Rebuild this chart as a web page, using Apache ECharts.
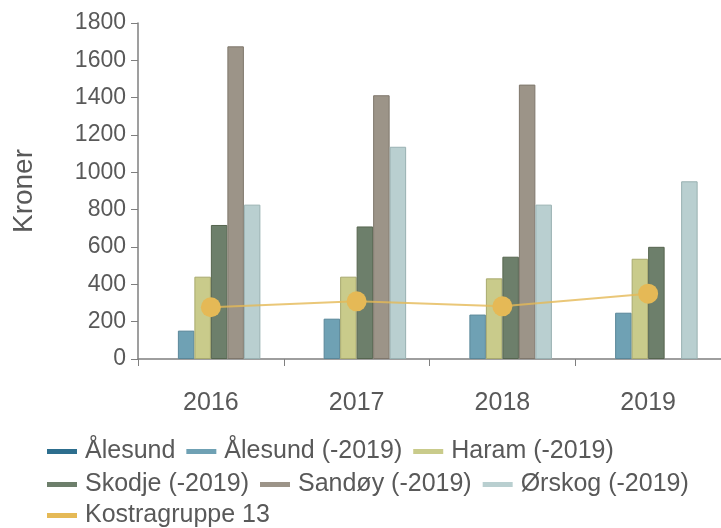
<!DOCTYPE html>
<html><head><meta charset="utf-8">
<script src="https://cdn.jsdelivr.net/npm/echarts@6/dist/echarts.min.js"></script>
<style>html,body{margin:0;padding:0;background:#fff}#c{width:721px;height:528px}</style>
</head><body><div id="c"></div>
<script>
const categories = ['2016', '2017', '2018', '2019'];
const seriesNames = ['Ålesund', 'Ålesund (-2019)', 'Haram (-2019)', 'Skodje (-2019)', 'Sandøy (-2019)', 'Ørskog (-2019)', 'Kostragruppe 13'];
const alesund = [null, null, null, null];
const alesund2019 = [152, 216, 238, 248];
const haram = [441, 441, 432, 537];
const skodje = [718, 710, 548, 601];
const sandoy = [1675, 1413, 1470, null];
const orskog = [827, 1137, 827, 952];
const kostra = [277, 309, 282, 350];
const yTicks = { min: 0, max: 1800, interval: 200 };

const fills = ['#2d6e8e', '#6fa1b4', '#c9cb8b', '#6d7f6b', '#9c9488', '#b9cfd0'];
const borders = ['#245a74', '#5a8799', '#a8aa6e', '#56654f', '#7f776c', '#99b1b2'];
const lineColor = '#e5b956';
const txt = '#595959';
const FONT = '"Liberation Sans", Arial, sans-serif';

const barData = [alesund, alesund2019, haram, skodje, sandoy, orskog];
const series = barData.map((d, i) => ({
  name: seriesNames[i], type: 'bar', data: d, barWidth: 16.5, barGap: '0%',
  itemStyle: { color: fills[i], borderColor: borders[i], borderWidth: 1 }
}));
series.push({
  name: seriesNames[6], type: 'line', data: kostra, symbol: 'circle', symbolSize: 20,
  itemStyle: { color: lineColor }, lineStyle: { color: lineColor, width: 2, opacity: 0.8 }, z: 5
});

const legendBase = {
  orient: 'horizontal', left: 42, itemWidth: 30, itemHeight: 5, itemGap: 11,
  icon: 'rect', itemStyle: { borderWidth: 0 },
  textStyle: { color: txt, fontSize: 25, fontFamily: FONT, padding: [0, 0, 0, 3] }
};
const chart = echarts.init(document.getElementById('c'));
chart.setOption({
  animation: false,
  grid: { left: 138, top: 23, bottom: 169, right: -4, containLabel: false },
  legend: [
    Object.assign({}, legendBase, { top: 434, data: seriesNames.slice(0, 3) }),
    Object.assign({}, legendBase, { top: 467, data: seriesNames.slice(3, 6) }),
    Object.assign({}, legendBase, { top: 498, data: seriesNames.slice(6) })
  ],
  xAxis: {
    type: 'category', data: categories,
    axisLine: { lineStyle: { color: '#7f7f7f', width: 1.5 } },
    axisTick: { show: true, length: 7, lineStyle: { color: '#7f7f7f' } },
    axisLabel: { color: txt, fontSize: 25, fontFamily: FONT, margin: 32 }
  },
  yAxis: {
    type: 'value', min: yTicks.min, max: yTicks.max, interval: yTicks.interval,
    name: 'Kroner', nameLocation: 'middle', nameGap: 100, nameRotate: 90,
    nameTextStyle: { color: txt, fontSize: 28, fontFamily: FONT },
    axisLine: { show: true, lineStyle: { color: '#7f7f7f', width: 1.5 } },
    axisTick: { show: true, length: 7, lineStyle: { color: '#7f7f7f' } },
    splitLine: { show: false },
    axisLabel: { color: txt, fontSize: 23, fontFamily: FONT, margin: 12, formatter: v => String(v) }
  },
  series: series
});
</script></body></html>
